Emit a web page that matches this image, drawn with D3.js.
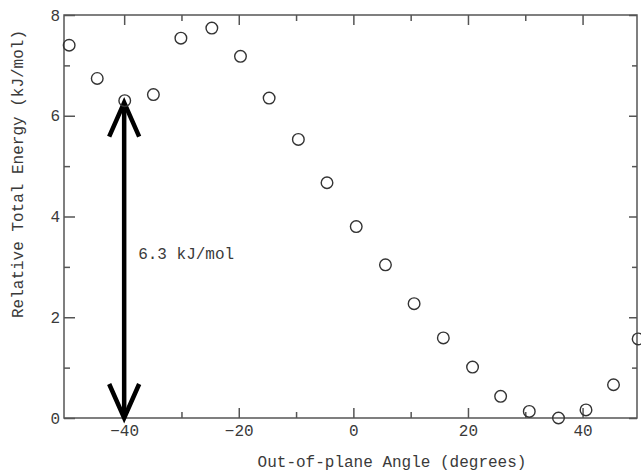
<!DOCTYPE html>
<html>
<head>
<meta charset="utf-8" />
<title>Relative Total Energy</title>
<style>
body { margin: 0; background: #fff; }
text { font-family: "Liberation Mono", "DejaVu Sans Mono", monospace; fill: #3a3a3a; }
.axis path.domain { display: none; }
.axis line { stroke: #555; stroke-width: 1.5; }
</style>
</head>
<body>
<div id="chart"></div>
<script src="https://d3js.org/d3.v7.min.js"></script>
<script>
// data
var angles = [-49.6, -44.7, -39.9, -34.9, -30.1, -24.7, -19.7, -14.7, -9.6, -4.6,
  0.5, 5.6, 10.6, 15.7, 20.8, 25.7, 30.7, 35.8, 40.6, 45.4, 49.7];
var energies = [7.40, 6.74, 6.30, 6.42, 7.54, 7.74, 7.18, 6.35, 5.53, 4.67,
  3.80, 3.04, 2.27, 1.59, 1.01, 0.43, 0.13, 0.00, 0.16, 0.66, 1.57];
var xMajorTicks = [-40, -20, 0, 20, 40];
var xMinorTicks = [-30, -10, 10, 30];
var yMajorTicks = [0, 2, 4, 6, 8];
var yMinorTicks = [1, 3, 5, 7];
var barrierAngle = [-40];
var barrierRange = [0, 6.3];
var barrierLabel = ['6.3 kJ/mol'];

var width = 641, height = 471;
var margin = {top: 15, right: 4, bottom: 53, left: 64};

var svg = d3.select('#chart').append('svg')
  .attr('width', width).attr('height', height);

var x = d3.scaleLinear().domain([-50.5, 49.5]).range([margin.left, width - margin.right]);
var y = d3.scaleLinear().domain([0, 8]).range([height - margin.bottom, margin.top]);

var plotClip = svg.append('defs').append('clipPath').attr('id', 'clip')
  .append('rect').attr('x', 0).attr('y', 0).attr('width', width).attr('height', height);

// axes: major and minor ticks on all four sides, pointing inward
function addAxis(axis, tx, ty) {
  svg.append('g').attr('class', 'axis')
    .attr('transform', 'translate(' + tx + ',' + ty + ')')
    .call(axis);
}
var x0 = y.range()[0], x1 = y.range()[1];
addAxis(d3.axisBottom(x).tickValues(xMajorTicks).tickSizeInner(-10).tickSizeOuter(0).tickPadding(7)
  .tickFormat(d3.format('d')), 0, y(0));
addAxis(d3.axisBottom(x).tickValues(xMinorTicks).tickSizeInner(-6).tickSizeOuter(0).tickFormat(''), 0, y(0));
addAxis(d3.axisTop(x).tickValues(xMajorTicks).tickSizeInner(-10).tickSizeOuter(0).tickFormat(''), 0, y(8));
addAxis(d3.axisTop(x).tickValues(xMinorTicks).tickSizeInner(-6).tickSizeOuter(0).tickFormat(''), 0, y(8));
addAxis(d3.axisLeft(y).tickValues(yMajorTicks).tickSizeInner(-11).tickSizeOuter(0).tickPadding(4)
  .tickFormat(d3.format('d')), x.range()[0], 0);
addAxis(d3.axisLeft(y).tickValues(yMinorTicks).tickSizeInner(-6).tickSizeOuter(0).tickFormat(''), x.range()[0], 0);
addAxis(d3.axisRight(y).tickValues(yMajorTicks).tickSizeInner(-8).tickSizeOuter(0).tickFormat(''), x.range()[1], 0);
addAxis(d3.axisRight(y).tickValues(yMinorTicks).tickSizeInner(-5).tickSizeOuter(0).tickFormat(''), x.range()[1], 0);

svg.selectAll('.axis text').style('font-size', '16px').style('fill', '#3a3a3a');

// frame
svg.append('rect')
  .attr('x', x.range()[0]).attr('y', y(8))
  .attr('width', x.range()[1] - x.range()[0]).attr('height', y(0) - y(8))
  .attr('fill', 'none').attr('stroke', '#555').attr('stroke-width', 1.5);

// double arrow for the barrier
var arrow = svg.append('g').attr('stroke', '#000').attr('stroke-width', 4.5)
  .attr('fill', 'none').attr('stroke-linecap', 'butt');
barrierAngle.forEach(function(a) {
  var ax = x(a), yTop = y(barrierRange[1]), yBot = y(barrierRange[0]);
  arrow.append('line').attr('x1', ax).attr('x2', ax).attr('y1', yTop + 3).attr('y2', yBot - 3);
  arrow.append('path').attr('stroke-linejoin', 'miter')
    .attr('d', 'M' + (ax - 15) + ',' + (yTop + 36) + 'L' + ax + ',' + (yTop + 2) + 'L' + (ax + 15) + ',' + (yTop + 36));
  arrow.append('path').attr('stroke-linejoin', 'miter')
    .attr('d', 'M' + (ax - 15) + ',' + (yBot - 34) + 'L' + ax + ',' + (yBot) + 'L' + (ax + 15) + ',' + (yBot - 34));
});

svg.append('text').data(barrierLabel)
  .attr('x', x(barrierAngle[0]) + 14).attr('y', y(3.15))
  .style('font-size', '16px')
  .text(function(d) { return d; });

// data points
svg.append('g').selectAll('circle')
  .data(angles.map(function(a, i) { return {a: a, e: energies[i]}; }))
  .enter().append('circle')
  .attr('cx', function(d) { return x(d.a); })
  .attr('cy', function(d) { return y(d.e); })
  .attr('r', 5.8)
  .attr('fill', 'none')
  .attr('stroke', '#333')
  .attr('stroke-width', 1.4);

// axis titles
svg.append('text')
  .attr('x', 392).attr('y', 467)
  .attr('text-anchor', 'middle')
  .style('font-size', '16px')
  .text('Out-of-plane Angle (degrees)');

svg.append('text')
  .attr('transform', 'translate(23,174) rotate(-90)')
  .attr('text-anchor', 'middle')
  .style('font-size', '16px')
  .text('Relative Total Energy (kJ/mol)');
</script>
</body>
</html>
